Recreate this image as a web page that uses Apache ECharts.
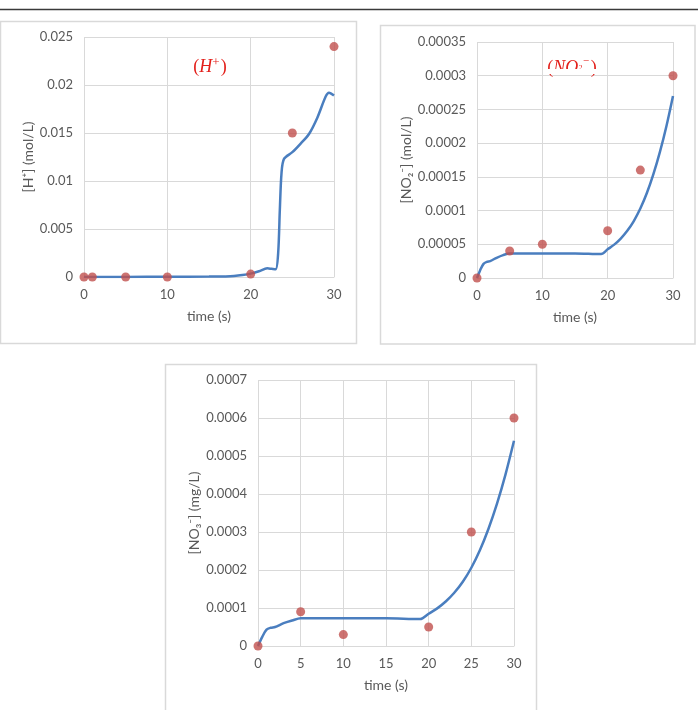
<!DOCTYPE html>
<html>
<head>
<meta charset="utf-8">
<script src="https://cdn.jsdelivr.net/npm/echarts@6/dist/echarts.min.js"></script>
<style>
html,body{margin:0;padding:0;background:#fff;}
#chart{width:698px;height:710px;}
</style>
</head>
<body>
<div id="chart"></div>
<script>
// ---------- Data ----------
// Chart 1: [H+]
const hObsTime = [0, 1, 5, 10, 20, 25, 30];
const hObs     = [0, 0, 0, 0, 0.0003, 0.015, 0.024];
const hFitTime = [0, 5, 10, 15, 17, 18, 19, 20, 21, 22, 22.5, 23, 23.3, 23.5, 23.7, 24, 25, 26, 27, 28, 29, 29.4, 30];
const hFit     = [0, 0.00001, 0.00002, 0.00004, 0.00006, 0.0001, 0.0002, 0.00035, 0.0006, 0.0009, 0.00085, 0.0008, 0.0025, 0.007, 0.0108, 0.0123, 0.013, 0.0139, 0.0149, 0.0166, 0.0188, 0.0192, 0.0189];
const hXTicks = [0, 10, 20, 30];
const hYTicks = [0, 0.005, 0.01, 0.015, 0.02, 0.025];

// Chart 2: [NO2-]
const no2ObsTime = [0, 5, 10, 20, 25, 30];
const no2Obs     = [0, 0.00004, 0.00005, 0.00007, 0.00016, 0.0003];
const no2FitTime = [0, 0.5, 1, 1.5, 2, 3, 4, 5, 6, 10, 15, 19, 20, 21, 22, 23, 24, 25, 26, 27, 28, 29, 30];
const no2Fit     = [0, 0.000012, 0.000021, 0.000024, 0.000025, 0.00003, 0.000034, 0.0000365, 0.0000365, 0.0000365, 0.0000365, 0.0000355, 0.0000425, 0.0000495, 0.0000585, 0.00007, 0.0000845, 0.000103, 0.000126, 0.000154, 0.000187, 0.0002255, 0.00027];
const no2XTicks = [0, 10, 20, 30];
const no2YTicks = [0, 0.00005, 0.0001, 0.00015, 0.0002, 0.00025, 0.0003, 0.00035];

// Chart 3: [NO3-]
const no3ObsTime = [0, 5, 10, 20, 25, 30];
const no3Obs     = [0, 0.00009, 0.00003, 0.00005, 0.0003, 0.0006];
const no3FitTime = [0, 0.5, 1, 1.5, 2, 3, 4, 5, 6, 10, 15, 19, 20, 21, 22, 23, 24, 25, 26, 27, 28, 29, 30];
const no3Fit     = [0, 0.000024, 0.000043, 0.000048, 0.00005, 0.00006, 0.000067, 0.000073, 0.000073, 0.000073, 0.000073, 0.000071, 0.000085, 0.000099, 0.000117, 0.00014, 0.000169, 0.000206, 0.000252, 0.000308, 0.000374, 0.000451, 0.00054];
const no3XTicks = [0, 5, 10, 15, 20, 25, 30];
const no3YTicks = [0, 0.0001, 0.0002, 0.0003, 0.0004, 0.0005, 0.0006, 0.0007];

// ---------- Styling ----------
const FONT = 'Lato, "Open Sans", sans-serif';
const LABEL = '#595959';
const GRID = '#d9d9d9';
const LINE_C = '#4a7ebf';
const DOT_C = '#c0504d';
const RED = '#e3201b';
const SERIF = '"Liberation Serif", "DejaVu Serif", serif';
const fmt = v => String(Number(v.toPrecision(6)));
const pairs = (xs, ys) => xs.map((x, i) => [x, ys[i]]);

function xAxis(gi, ticks) {
  return {
    type: 'value', gridIndex: gi,
    min: ticks[0], max: ticks[ticks.length - 1], interval: ticks[1] - ticks[0],
    name: 'time (s)', nameLocation: 'middle', nameGap: 32,
    nameTextStyle: { color: LABEL, fontFamily: FONT, fontSize: 14 },
    axisLine: { show: true, lineStyle: { color: GRID, width: 1 } },
    axisTick: { show: false },
    axisLabel: { color: LABEL, fontFamily: FONT, fontSize: 13, margin: 11, formatter: fmt },
    splitLine: { show: true, lineStyle: { color: GRID, width: 1 } }
  };
}
function yAxis(gi, ticks, name, gap) {
  return {
    type: 'value', gridIndex: gi,
    min: ticks[0], max: ticks[ticks.length - 1], interval: ticks[1] - ticks[0],
    name: name, nameLocation: 'middle', nameRotate: 90, nameGap: gap,
    nameTextStyle: { color: LABEL, fontFamily: FONT, fontSize: 14 },
    axisLine: { show: false },
    axisTick: { show: false },
    axisLabel: { color: LABEL, fontFamily: FONT, fontSize: 13, margin: 11, formatter: fmt },
    splitLine: { show: true, lineStyle: { color: GRID, width: 1 } }
  };
}
function lineSeries(i, xs, ys) {
  return {
    type: 'line', xAxisIndex: i, yAxisIndex: i, data: pairs(xs, ys),
    smooth: 0.3, showSymbol: false, symbol: 'none',
    lineStyle: { color: LINE_C, width: 2.5 }, z: 3, silent: true
  };
}
function dotSeries(i, xs, ys) {
  return {
    type: 'scatter', xAxisIndex: i, yAxisIndex: i, data: pairs(xs, ys),
    symbol: 'circle', symbolSize: 9, itemStyle: { color: DOT_C }, z: 4, silent: true
  };
}

const annRich = {
  p: { fontFamily: SERIF, fontSize: 18, fill: RED },
  i: { fontFamily: SERIF, fontStyle: 'italic', fontSize: 18, fill: RED },
  sup: { fontFamily: SERIF, fontSize: 13, fill: RED, padding: [0, 1, 9, 0] }
};

const option = {
  animation: false,
  backgroundColor: '#ffffff',
  grid: [
    { left: 84, top: 37, width: 250, height: 240, containLabel: false, outerBoundsMode: 'none' },
    { left: 477, top: 42, width: 196, height: 236, containLabel: false, outerBoundsMode: 'none' },
    { left: 258, top: 380, width: 256, height: 266, containLabel: false, outerBoundsMode: 'none' }
  ],
  xAxis: [xAxis(0, hXTicks), xAxis(1, no2XTicks), xAxis(2, no3XTicks)],
  yAxis: [
    yAxis(0, hYTicks, '[H⁺] (mol/L)', 49),
    yAxis(1, no2YTicks, '[NO₂⁻] (mol/L)', 60),
    yAxis(2, no3YTicks, '[NO₃⁻] (mg/L)', 57)
  ],
  series: [
    lineSeries(0, hFitTime, hFit), dotSeries(0, hObsTime, hObs),
    lineSeries(1, no2FitTime, no2Fit), dotSeries(1, no2ObsTime, no2Obs),
    lineSeries(2, no3FitTime, no3Fit), dotSeries(2, no3ObsTime, no3Obs)
  ],
  graphic: [
    { type: 'line', shape: { x1: 0, y1: 9.5, x2: 698, y2: 9.5 }, style: { stroke: '#3a3a3a', lineWidth: 1.5 }, z: 10 },
    { type: 'rect', shape: { x: 0.5, y: 21.5, width: 356, height: 322 }, style: { fill: null, stroke: '#d9d9d9', lineWidth: 1.5 }, z: 10 },
    { type: 'rect', shape: { x: 380.5, y: 25.5, width: 314.5, height: 318.5 }, style: { fill: null, stroke: '#d9d9d9', lineWidth: 1.5 }, z: 10 },
    { type: 'rect', shape: { x: 165.5, y: 364.5, width: 371, height: 360 }, style: { fill: null, stroke: '#d9d9d9', lineWidth: 1.5 }, z: 10 },
    { type: 'text', x: 210, y: 67, z: 20,
      style: { text: '{p|(}{i|H}{sup|+}{p|)}', rich: annRich, align: 'center', verticalAlign: 'middle', fill: RED } },
    { type: 'text', x: 572, y: 68, z: 20,
      style: { text: '{p|(}{i|NO}{sup|₂⁻}{p|)}', rich: annRich, align: 'center', verticalAlign: 'middle', fill: RED } },
    { type: 'rect', shape: { x: 546, y: 69, width: 56, height: 5 }, style: { fill: '#ffffff' }, z: 21 }
  ]
};

const chart = echarts.init(document.getElementById('chart'), null, { renderer: 'canvas' });
chart.setOption(option);
</script>
</body>
</html>
